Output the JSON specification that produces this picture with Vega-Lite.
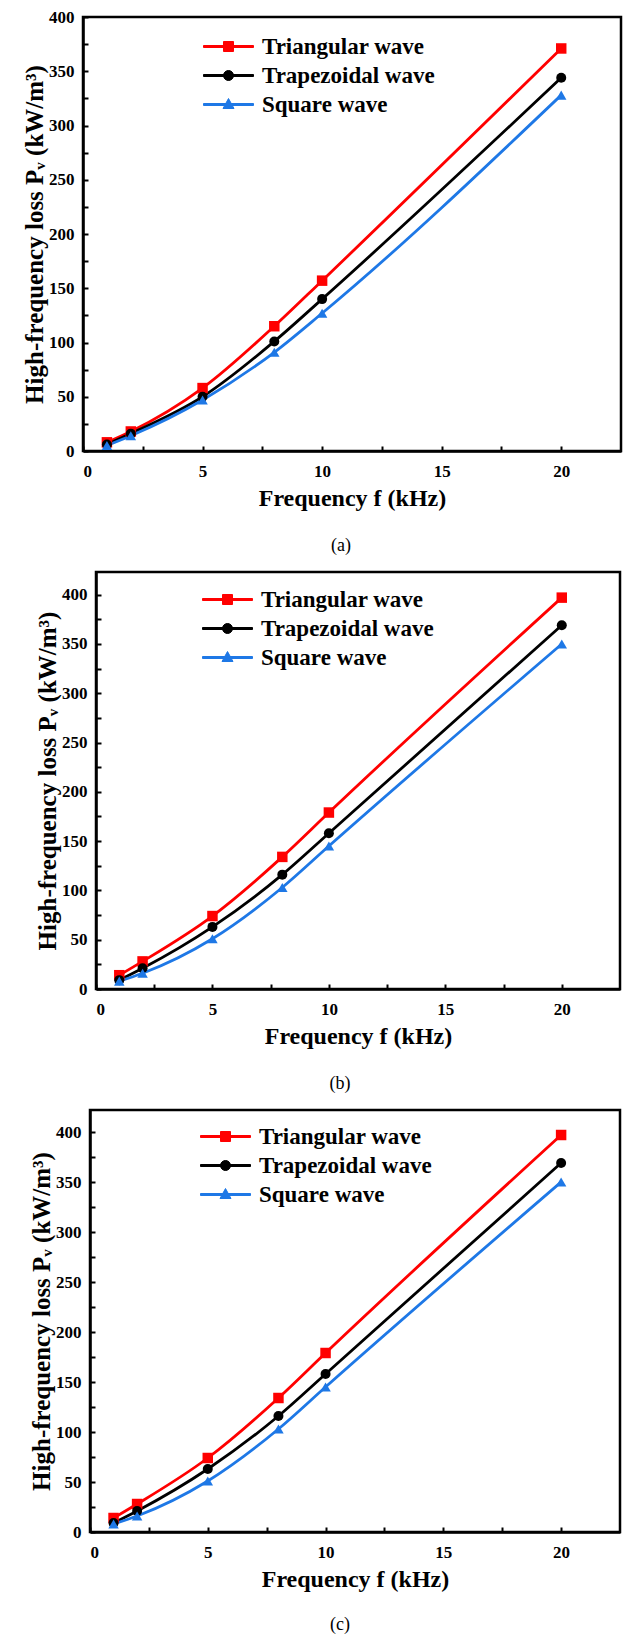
{
  "$schema": "https://vega.github.io/schema/vega-lite/v6.json",
  "background": "white",
  "padding": {"left": 10, "top": 6, "right": 0, "bottom": 0},
  "config": {
    "font": "Liberation Serif",
    "view": {"stroke": "black", "strokeWidth": 2.5},
    "axis": {
      "grid": false,
      "domainColor": "black", "domainWidth": 2.5,
      "tickColor": "black", "tickWidth": 2, "tickSize": -5,
      "labelFont": "Liberation Serif", "labelFontWeight": "bold", "labelFontSize": 17, "labelColor": "black",
      "titleFont": "Liberation Serif", "titleFontWeight": "bold", "titleColor": "black"
    },
    "axisX": {"labelPadding": 17, "titlePadding": 7, "titleFontSize": 24},
    "axisY": {"labelPadding": 14, "titlePadding": 1, "titleFontSize": 25},
    "legend": {
      "labelFont": "Liberation Serif", "labelFontWeight": "bold", "labelFontSize": 23, "labelColor": "black", "labelLimit": 400
    },
    "title": {"font": "Liberation Serif", "fontWeight": "normal", "fontSize": 18, "color": "black"}
  },
  "datasets": {
    "a": [
      {"f": 1, "loss": 8, "wave": "Triangular wave"},
      {"f": 2, "loss": 18, "wave": "Triangular wave"},
      {"f": 5, "loss": 58, "wave": "Triangular wave"},
      {"f": 8, "loss": 115, "wave": "Triangular wave"},
      {"f": 10, "loss": 157, "wave": "Triangular wave"},
      {"f": 20, "loss": 371, "wave": "Triangular wave"},
      {"f": 1, "loss": 6, "wave": "Trapezoidal wave"},
      {"f": 2, "loss": 16, "wave": "Trapezoidal wave"},
      {"f": 5, "loss": 50, "wave": "Trapezoidal wave"},
      {"f": 8, "loss": 101, "wave": "Trapezoidal wave"},
      {"f": 10, "loss": 140, "wave": "Trapezoidal wave"},
      {"f": 20, "loss": 344, "wave": "Trapezoidal wave"},
      {"f": 1, "loss": 5, "wave": "Square wave"},
      {"f": 2, "loss": 14, "wave": "Square wave"},
      {"f": 5, "loss": 47, "wave": "Square wave"},
      {"f": 8, "loss": 91, "wave": "Square wave"},
      {"f": 10, "loss": 127, "wave": "Square wave"},
      {"f": 20, "loss": 328, "wave": "Square wave"}
    ],
    "bc": [
      {"f": 1, "loss": 14, "wave": "Triangular wave"},
      {"f": 2, "loss": 28, "wave": "Triangular wave"},
      {"f": 5, "loss": 74, "wave": "Triangular wave"},
      {"f": 8, "loss": 134, "wave": "Triangular wave"},
      {"f": 10, "loss": 179, "wave": "Triangular wave"},
      {"f": 20, "loss": 397, "wave": "Triangular wave"},
      {"f": 1, "loss": 9, "wave": "Trapezoidal wave"},
      {"f": 2, "loss": 21, "wave": "Trapezoidal wave"},
      {"f": 5, "loss": 63, "wave": "Trapezoidal wave"},
      {"f": 8, "loss": 116, "wave": "Trapezoidal wave"},
      {"f": 10, "loss": 158, "wave": "Trapezoidal wave"},
      {"f": 20, "loss": 369, "wave": "Trapezoidal wave"},
      {"f": 1, "loss": 8, "wave": "Square wave"},
      {"f": 2, "loss": 16, "wave": "Square wave"},
      {"f": 5, "loss": 51, "wave": "Square wave"},
      {"f": 8, "loss": 103, "wave": "Square wave"},
      {"f": 10, "loss": 145, "wave": "Square wave"},
      {"f": 20, "loss": 350, "wave": "Square wave"}
    ]
  },
  "spacing": 13,
  "resolve": {"scale": {"color": "independent", "shape": "independent"}, "legend": {"color": "independent", "shape": "independent"}},
  "vconcat": [
    {
      "spacing": 0,
      "resolve": {"scale": {"color": "independent", "shape": "independent"}, "legend": {"color": "independent", "shape": "independent"}},
      "hconcat": [
        {"width": 11, "height": 10, "data": {"values": [{}]}, "mark": {"type": "point", "opacity": 0}, "encoding": {}, "view": {"stroke": null, "fill": "white"}},
        {
          "width": 538, "height": 434,
          "data": {"name": "a"},
          "title": {"text": "(a)", "orient": "bottom", "anchor": "middle", "frame": "group", "dx": -11, "offset": 27},
          "encoding": {
            "x": {"field": "f", "type": "quantitative", "scale": {"domain": [0, 22.5], "nice": false},
              "axis": {"title": "Frequency f (kHz)", "values": [0, 2.5, 5, 7.5, 10, 12.5, 15, 17.5, 20], "labelExpr": "datum.value % 5 === 0 ? datum.label : ''"}},
            "y": {"field": "loss", "type": "quantitative", "scale": {"domain": [0, 400], "nice": false},
              "axis": {"title": "High-frequency loss Pᵥ (kW/m³)", "values": [0, 25, 50, 75, 100, 125, 150, 175, 200, 225, 250, 275, 300, 325, 350, 375, 400], "labelExpr": "datum.value % 50 === 0 ? datum.label : ''"}},
            "color": {"field": "wave", "type": "nominal",
              "scale": {"domain": ["Triangular wave", "Trapezoidal wave", "Square wave"], "range": ["#FF0000", "#000000", "#1E78E6"]},
              "legend": {"orient": "none", "legendX": 134, "legendY": 18, "title": null, "symbolSize": 100, "symbolStrokeWidth": 1, "labelOffset": 22, "rowPadding": 5, "padding": 0}}
          },
          "layer": [
            {"mark": {"type": "line", "interpolate": "monotone", "strokeWidth": 2.8}},
            {"transform": [{"filter": "datum.f < 0"}],
              "mark": {"type": "point", "filled": true, "size": 100, "opacity": 1},
              "encoding": {"shape": {"field": "wave", "type": "nominal",
                "scale": {"domain": ["Triangular wave", "Trapezoidal wave", "Square wave"], "range": ["M-5,-0.2H5V0.2H-5ZM-1,-1H1V1H-1Z", "M-5,-0.2H5V0.2H-5ZM-1,0A1,1,0,1,1,1,0A1,1,0,1,1,-1,0Z", "M-5,-0.2H5V0.2H-5ZM0,-1.2L1.1,0.8L-1.1,0.8Z"]},
                "legend": {"orient": "none", "legendX": 134, "legendY": 18, "title": null, "symbolSize": 100, "symbolStrokeWidth": 1, "labelOffset": 22, "rowPadding": 5, "padding": 0}}}},
            {"transform": [{"filter": "datum.wave === 'Triangular wave'"}], "mark": {"type": "square", "size": 110, "opacity": 1}},
            {"transform": [{"filter": "datum.wave === 'Trapezoidal wave'"}], "mark": {"type": "circle", "size": 100, "opacity": 1}},
            {"transform": [{"filter": "datum.wave === 'Square wave'"}], "mark": {"type": "point", "shape": "triangle-up", "filled": true, "size": 110, "opacity": 1}}
          ]
        }
      ]
    },
    {
      "spacing": 0,
      "resolve": {"scale": {"color": "independent", "shape": "independent"}, "legend": {"color": "independent", "shape": "independent"}},
      "hconcat": [
        {"width": 24, "height": 10, "data": {"values": [{}]}, "mark": {"type": "point", "opacity": 0}, "encoding": {}, "view": {"stroke": null, "fill": "white"}},
        {
          "width": 524, "height": 417,
          "data": {"name": "bc"},
          "title": {"text": "(b)", "orient": "bottom", "anchor": "middle", "frame": "group", "dx": -18, "offset": 27},
          "encoding": {
            "x": {"field": "f", "type": "quantitative", "scale": {"domain": [0, 22.5], "nice": false},
              "axis": {"title": "Frequency f (kHz)", "values": [0, 2.5, 5, 7.5, 10, 12.5, 15, 17.5, 20], "labelExpr": "datum.value % 5 === 0 ? datum.label : ''"}},
            "y": {"field": "loss", "type": "quantitative", "scale": {"domain": [0, 423], "nice": false},
              "axis": {"title": "High-frequency loss Pᵥ (kW/m³)", "values": [0, 25, 50, 75, 100, 125, 150, 175, 200, 225, 250, 275, 300, 325, 350, 375, 400], "labelExpr": "datum.value % 50 === 0 ? datum.label : ''"}},
            "color": {"field": "wave", "type": "nominal",
              "scale": {"domain": ["Triangular wave", "Trapezoidal wave", "Square wave"], "range": ["#FF0000", "#000000", "#1E78E6"]},
              "legend": {"orient": "none", "legendX": 120, "legendY": 16, "title": null, "symbolSize": 100, "symbolStrokeWidth": 1, "labelOffset": 22, "rowPadding": 5, "padding": 0}}
          },
          "layer": [
            {"mark": {"type": "line", "interpolate": "monotone", "strokeWidth": 2.8}},
            {"transform": [{"filter": "datum.f < 0"}],
              "mark": {"type": "point", "filled": true, "size": 100, "opacity": 1},
              "encoding": {"shape": {"field": "wave", "type": "nominal",
                "scale": {"domain": ["Triangular wave", "Trapezoidal wave", "Square wave"], "range": ["M-5,-0.2H5V0.2H-5ZM-1,-1H1V1H-1Z", "M-5,-0.2H5V0.2H-5ZM-1,0A1,1,0,1,1,1,0A1,1,0,1,1,-1,0Z", "M-5,-0.2H5V0.2H-5ZM0,-1.2L1.1,0.8L-1.1,0.8Z"]},
                "legend": {"orient": "none", "legendX": 120, "legendY": 16, "title": null, "symbolSize": 100, "symbolStrokeWidth": 1, "labelOffset": 22, "rowPadding": 5, "padding": 0}}}},
            {"transform": [{"filter": "datum.wave === 'Triangular wave'"}], "mark": {"type": "square", "size": 110, "opacity": 1}},
            {"transform": [{"filter": "datum.wave === 'Trapezoidal wave'"}], "mark": {"type": "circle", "size": 100, "opacity": 1}},
            {"transform": [{"filter": "datum.wave === 'Square wave'"}], "mark": {"type": "point", "shape": "triangle-up", "filled": true, "size": 110, "opacity": 1}}
          ]
        }
      ]
    },
    {
      "spacing": 0,
      "resolve": {"scale": {"color": "independent", "shape": "independent"}, "legend": {"color": "independent", "shape": "independent"}},
      "hconcat": [
        {"width": 18, "height": 10, "data": {"values": [{}]}, "mark": {"type": "point", "opacity": 0}, "encoding": {}, "view": {"stroke": null, "fill": "white"}},
        {
          "width": 530, "height": 422,
          "data": {"name": "bc"},
          "title": {"text": "(c)", "orient": "bottom", "anchor": "middle", "frame": "group", "dx": -15, "offset": 25},
          "encoding": {
            "x": {"field": "f", "type": "quantitative", "scale": {"domain": [0, 22.5], "nice": false},
              "axis": {"title": "Frequency f (kHz)", "values": [0, 2.5, 5, 7.5, 10, 12.5, 15, 17.5, 20], "labelExpr": "datum.value % 5 === 0 ? datum.label : ''"}},
            "y": {"field": "loss", "type": "quantitative", "scale": {"domain": [0, 422], "nice": false},
              "axis": {"title": "High-frequency loss Pᵥ (kW/m³)", "values": [0, 25, 50, 75, 100, 125, 150, 175, 200, 225, 250, 275, 300, 325, 350, 375, 400], "labelExpr": "datum.value % 50 === 0 ? datum.label : ''"}},
            "color": {"field": "wave", "type": "nominal",
              "scale": {"domain": ["Triangular wave", "Trapezoidal wave", "Square wave"], "range": ["#FF0000", "#000000", "#1E78E6"]},
              "legend": {"orient": "none", "legendX": 124, "legendY": 15, "title": null, "symbolSize": 100, "symbolStrokeWidth": 1, "labelOffset": 22, "rowPadding": 5, "padding": 0}}
          },
          "layer": [
            {"mark": {"type": "line", "interpolate": "monotone", "strokeWidth": 2.8}},
            {"transform": [{"filter": "datum.f < 0"}],
              "mark": {"type": "point", "filled": true, "size": 100, "opacity": 1},
              "encoding": {"shape": {"field": "wave", "type": "nominal",
                "scale": {"domain": ["Triangular wave", "Trapezoidal wave", "Square wave"], "range": ["M-5,-0.2H5V0.2H-5ZM-1,-1H1V1H-1Z", "M-5,-0.2H5V0.2H-5ZM-1,0A1,1,0,1,1,1,0A1,1,0,1,1,-1,0Z", "M-5,-0.2H5V0.2H-5ZM0,-1.2L1.1,0.8L-1.1,0.8Z"]},
                "legend": {"orient": "none", "legendX": 124, "legendY": 15, "title": null, "symbolSize": 100, "symbolStrokeWidth": 1, "labelOffset": 22, "rowPadding": 5, "padding": 0}}}},
            {"transform": [{"filter": "datum.wave === 'Triangular wave'"}], "mark": {"type": "square", "size": 110, "opacity": 1}},
            {"transform": [{"filter": "datum.wave === 'Trapezoidal wave'"}], "mark": {"type": "circle", "size": 100, "opacity": 1}},
            {"transform": [{"filter": "datum.wave === 'Square wave'"}], "mark": {"type": "point", "shape": "triangle-up", "filled": true, "size": 110, "opacity": 1}}
          ]
        }
      ]
    }
  ]
}
